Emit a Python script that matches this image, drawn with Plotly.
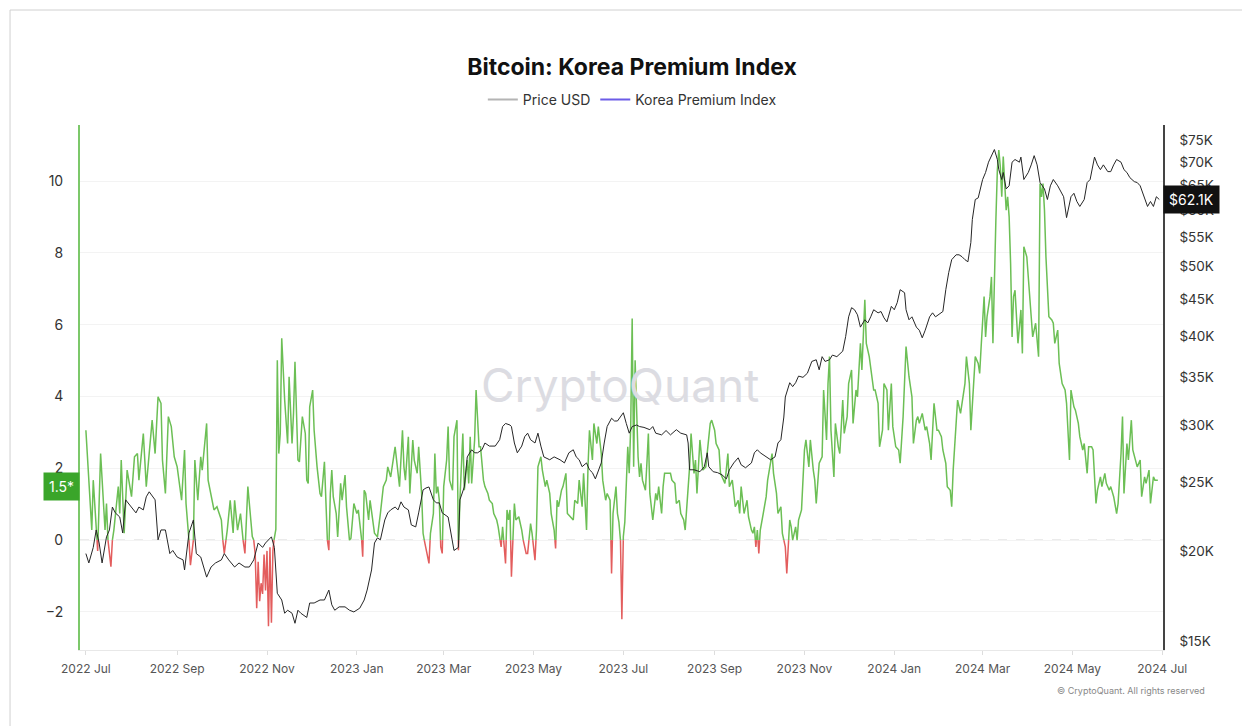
import numpy as np
import pandas as pd
import plotly.graph_objects as go

BASE = pd.Timestamp("2022-07-01")

# Korea Premium Index (%), day offset from 2022-07-01 and value
kpi_day = [0,4,5,7,8,10,13,14,15,17,18,19,22,23,24,26,28,31,33,35,36,39,41,43,45,47,49,51,52,54,56,58,60,62,63,65,67,68,70,71,73,74,76,78,79,82,83,85,87,89,92,93,94,96,98,100,101,103,105,107,108,110,112,113,
           114,115,116,117,118,119,120,121,122,123,124,125,126,127,128,129,
           130,131,132,133,135,137,138,140,141,142,144,145,147,149,150,151,152,154,155,157,159,160,162,163,164,165,166,167,168,170,171,173,174,176,177,179,180,182,184,185,187,188,189,190,192,193,195,196,198,199,200,202,204,205,207,209,210,212,213,215,216,217,219,220,222,223,225,226,228,229,231,233,234,236,237,238,239,
           240,241,242,243,245,246,247,249,250,252,253,254,256,257,259,260,261,262,264,265,267,268,270,271,273,274,276,277,279,280,282,283,285,286,287,288,289,291,292,294,296,297,299,300,302,303,305,306,307,309,310,312,313,315,316,318,319,320,321,323,324,326,327,329,331,332,334,335,337,338,340,341,342,344,345,347,348,350,351,353,354,356,357,358,360,361,
           362,363,364,365,366,
           367,368,369,370,371,372,373,375,376,377,378,380,381,382,383,385,387,388,389,391,392,393,395,397,398,400,401,403,404,406,407,409,410,411,412,413,414,415,417,418,419,421,422,424,425,427,428,430,431,433,434,436,437,439,440,441,443,444,445,447,449,450,452,453,454,455,456,457,458,460,462,463,465,466,467,469,470,472,473,474,475,476,478,479,480,482,483,
           484,486,488,489,491,492,494,495,496,498,500,501,503,504,505,506,508,509,511,512,514,515,517,518,520,521,523,524,526,527,529,530,532,533,535,536,538,539,541,542,544,545,547,548,550,552,553,555,556,557,559,561,562,564,565,566,568,570,571,573,574,576,578,579,581,582,584,585,587,588,589,591,592,594,595,597,598,600,601,603,604,606,
           607,608,610,611,612,614,615,616,617,618,619,620,621,622,623,625,626,627,628,629,630,631,633,634,635,636,637,639,640,642,643,645,647,648,649,650,651,652,654,656,657,658,660,661,663,665,666,668,669,671,672,674,675,677,678,680,681,683,684,686,687,689,690,692,693,695,696,698,700,701,703,704,705,707,708,710,711,713,714,716,717,719,720,722,723,725,726,728]
kpi_val = [3.06,0.28,1.67,0.37,-0.3,2.41,0.28,1.02,0.0,-0.74,0.0,0.28,1.49,0.74,2.23,0.19,1.95,1.21,2.32,2.41,1.67,2.97,1.49,2.32,3.34,2.41,3.99,3.81,2.23,1.30,3.44,3.16,2.32,2.04,1.76,1.11,2.51,1.02,0.0,-0.7,0.0,2.23,1.11,2.32,1.95,3.25,1.67,1.30,0.84,0.93,0.56,0.0,-0.37,0.28,1.11,0.2,1.11,0.28,0.74,-0.1,-0.37,1.49,0.56,0.1,
           0.0,-0.4,-1.9,-0.6,-1.7,-1.2,-1.5,-0.4,-1.4,-0.3,-2.4,-0.2,-2.3,-0.3,0.1,0.3,
           5.01,2.41,2.97,5.62,3.90,2.69,4.55,2.69,3.53,4.97,2.23,2.18,3.44,2.97,1.67,1.58,3.71,4.18,3.06,2.04,1.30,1.21,2.18,1.30,0.0,-0.28,1.30,1.95,1.21,0.74,0.09,1.58,1.11,1.81,0.93,0.0,0.05,1.02,0.74,0.84,0.19,-0.46,1.39,1.30,0.56,1.11,0.56,0.19,0.09,0.37,0.74,1.49,1.67,2.04,1.76,2.32,2.60,1.86,1.49,3.06,2.04,1.67,2.88,1.30,2.79,2.23,1.86,2.60,1.30,0.19,-0.28,-0.65,0.19,0.74,2.41,1.30,1.49,
           1.11,-0.19,-0.37,1.49,2.23,3.16,1.67,1.39,2.88,3.34,-0.28,1.11,2.97,1.39,2.23,1.58,2.88,1.58,2.79,4.18,2.60,2.60,1.67,1.49,1.30,1.11,1.02,0.74,0.56,0.37,-0.19,0.37,-0.65,0.84,0.56,0.84,-1.02,1.02,0.56,0.65,0.28,0.0,-0.37,-0.37,0.46,0.19,-0.56,0.28,2.04,2.32,1.95,1.49,1.67,1.30,0.74,0.28,-0.23,1.11,0.93,1.39,1.49,1.86,0.74,0.65,0.56,1.11,1.02,1.67,0.93,1.86,0.28,2.04,3.06,2.23,3.25,2.69,3.16,2.41,1.67,1.11,1.30,1.11,-0.93,0.74,1.49,0.74,
           0.5,0.1,-2.2,0.1,0.5,
           1.49,2.60,1.86,3.16,6.17,2.04,5.01,2.32,1.76,2.14,1.67,1.39,2.14,2.97,1.30,0.56,1.30,1.11,1.49,0.74,1.49,1.86,1.86,1.86,1.67,1.58,1.02,1.11,0.74,0.56,0.28,1.49,2.04,2.97,2.41,1.86,2.23,1.30,2.79,2.23,1.95,2.04,2.41,3.25,3.34,3.06,2.69,2.51,1.86,1.67,1.58,2.41,1.49,1.67,1.30,0.93,1.11,0.74,1.49,0.74,1.11,0.65,0.28,0.19,0.37,-0.19,0.28,-0.37,0.28,0.74,1.21,1.67,2.14,2.41,1.86,1.30,0.74,0.93,0.19,0.0,-0.19,-0.93,0.56,0.37,0.0,0.37,0.0,
           0.56,0.84,2.51,2.79,2.04,2.79,1.95,1.67,1.02,2.14,2.32,4.18,2.79,4.36,5.11,3.06,1.76,3.25,2.60,2.41,3.90,2.97,3.44,4.36,4.74,3.25,4.18,3.99,5.48,4.74,6.69,5.48,5.11,4.74,4.18,4.18,3.81,2.60,3.06,4.36,4.18,3.06,4.36,3.16,2.60,2.51,2.14,3.44,4.36,5.39,4.55,3.99,2.69,3.34,3.44,3.25,3.53,3.06,3.16,2.69,2.23,3.81,3.06,3.06,2.88,2.51,2.14,1.49,1.39,0.93,1.95,3.25,3.90,3.53,3.81,4.36,5.11,4.36,3.06,4.36,5.11,4.92,
           4.64,5.39,6.78,5.66,6.22,6.78,7.33,5.48,7.71,8.91,10.3,10.86,10.40,9.56,10.68,9.19,9.56,9.01,7.71,5.66,6.78,6.96,5.48,5.85,6.41,5.20,8.17,7.89,7.24,6.22,5.66,6.04,5.11,9.93,9.56,9.93,9.19,7.89,6.22,6.13,6.04,5.48,5.85,4.92,4.36,4.18,3.81,2.23,4.18,3.71,3.62,3.25,2.88,2.51,2.69,1.86,2.60,2.60,2.51,1.02,1.39,1.76,1.49,1.86,1.58,1.39,1.49,1.21,0.74,1.02,2.41,3.44,1.30,2.69,2.23,3.34,2.51,2.14,2.04,2.23,1.21,1.76,1.58,1.95,1.02,1.76,1.67,1.67]

# Bitcoin price (USD), day offset from 2022-07-01 and value
price_day = [0,2,5,7,9,11,14,16,18,20,23,25,27,31,34,36,39,41,43,47,49,51,54,57,59,62,66,67,70,73,75,78,82,85,88,92,94,97,101,104,108,111,114,117,
             120,122,126,128,130,133,135,137,140,142,144,146,150,152,155,159,162,165,167,169,172,176,179,182,186,189,191,194,196,198,200,203,205,207,210,212,214,216,219,221,224,226,229,231,233,236,238,
             240,242,246,248,250,253,254,257,259,262,264,266,269,271,274,278,281,283,285,288,289,291,293,296,298,300,302,305,307,309,311,315,318,322,325,328,331,333,335,337,340,342,344,346,348,350,352,354,357,359,361,
             365,367,369,371,374,376,379,383,385,387,391,394,397,401,404,408,409,410,413,417,420,422,423,426,429,432,435,437,440,443,445,448,452,454,456,458,462,465,468,470,472,474,475,478,480,482,
             484,487,490,493,496,498,500,502,505,507,510,514,516,518,520,522,524,526,529,531,533,535,538,540,542,544,547,549,551,553,556,557,559,561,564,566,568,570,573,575,577,579,582,584,586,588,591,593,595,597,599,601,602,604,606,
             609,611,613,615,617,619,620,622,623,625,627,629,631,634,635,637,640,642,644,646,648,651,653,655,657,660,662,664,666,669,671,673,675,678,680,682,685,687,689,691,694,696,698,700,703,705,707,709,712,714,716,718,721,723,725,727,729]
price_val = [19870,19280,20270,21440,20560,19280,20970,21440,23080,22650,22350,21230,23620,23080,22650,23080,22870,23850,24240,23620,20770,21440,21440,19870,20070,19650,19470,18850,21230,22140,19870,19650,18420,19030,19280,19470,19870,19470,19030,19280,19030,19030,19470,20560,
             20270,20560,20970,20270,17490,17115,16400,16560,16400,15880,16560,16400,16180,16950,16950,17115,17115,17670,16850,16560,16740,16740,16560,16470,16670,17115,17670,18850,20560,20900,20770,22140,22650,22870,23080,22870,23470,23080,22870,21790,21650,22650,24390,24540,24620,23620,23390,
             23390,22650,22350,21230,20070,20270,23620,24620,27120,27750,27480,27480,27750,28360,28080,28080,28660,29900,30200,30050,29900,28360,27480,28080,28940,29270,28660,28360,29270,28080,27120,26870,27120,26870,26600,27480,27750,27120,26870,26280,26600,26020,25780,25270,26020,26600,28360,29900,30710,30440,30440,
             31260,30200,29270,29900,30050,29900,29820,29600,29900,29270,29110,29520,29110,29600,29270,29110,28360,26020,26020,25860,26280,27480,26280,25860,25780,25600,25270,26020,26600,27040,26440,26190,26600,27480,27750,27480,27120,26870,27120,28360,28660,30830,32880,34430,34000,34430,
             35170,35030,35500,36870,37070,35890,37440,36870,37070,37630,37440,38110,39960,42560,43830,43540,42840,41170,42160,41730,42560,43540,43110,43290,42420,41870,44020,43540,44550,46440,45990,43540,42160,42560,41170,40760,39780,40760,42560,43110,42560,42840,43290,46440,49100,51150,51960,51960,51640,51150,50800,54040,58190,62070,62400,
             66200,67710,69990,71480,72900,70600,68330,66200,67710,64230,64870,69990,70600,69990,71150,66200,67710,69390,71480,69390,65550,64230,62070,64870,66200,64870,63640,62630,58560,62630,63330,61680,60700,62070,65550,66200,71150,69390,68330,69390,67900,67900,69390,70600,69990,68330,67710,66600,65750,65550,64870,63330,60700,61680,60700,62630,62070]

left_ticks = [-2, 0, 2, 4, 6, 8, 10]
right_ticks = [15000, 20000, 25000, 30000, 35000, 40000, 45000, 50000, 55000, 60000, 65000, 70000, 75000]
right_labels = ["$15K", "$20K", "$25K", "$30K", "$35K", "$40K", "$45K", "$50K", "$55K", "$60K", "$65K", "$70K", "$75K"]
last_kpi_label = "1.5*"
last_kpi_level = 1.5
last_price = 62100

GREEN = "#6cbf55"
RED = "#e35d5d"


def split_sign(days, vals):
    xs, ys = [], []
    for i in range(len(vals)):
        if i > 0:
            a, b = vals[i - 1], vals[i]
            if a != 0 and b != 0 and (a < 0) != (b < 0):
                t = a / (a - b)
                xs.append(days[i - 1] + t * (days[i] - days[i - 1]))
                ys.append(0.0)
        xs.append(days[i])
        ys.append(vals[i])
    pos = [y if y >= 0 else None for y in ys]
    neg = [y if y <= 0 else None for y in ys]
    dates = BASE + pd.to_timedelta(np.array(xs, dtype=float), unit="D")
    return dates, pos, neg


k_dates, k_pos, k_neg = split_sign(kpi_day, kpi_val)
p_dates = BASE + pd.to_timedelta(np.array(price_day, dtype=float), unit="D")

fig = go.Figure()
fig.add_trace(go.Scatter(x=k_dates, y=k_pos, mode="lines", line=dict(color=GREEN, width=1.5),
                         connectgaps=False, showlegend=False, hoverinfo="skip"))
fig.add_trace(go.Scatter(x=k_dates, y=k_neg, mode="lines", line=dict(color=RED, width=1.5),
                         connectgaps=False, showlegend=False, hoverinfo="skip"))
fig.add_trace(go.Scatter(x=p_dates, y=price_val, mode="lines", line=dict(color="#262626", width=1),
                         yaxis="y2", showlegend=False, hoverinfo="skip"))
# legend entries
fig.add_trace(go.Scatter(x=[None], y=[None], mode="lines", name="Price USD",
                         line=dict(color="#b4b4b4", width=2)))
fig.add_trace(go.Scatter(x=[None], y=[None], mode="lines", name="Korea Premium Index",
                         line=dict(color="#6c5ce7", width=2)))

FONT = "Inter, 'Noto Sans', Arial, sans-serif"

# page body adds an 8px offset; figure is sized so the plot area lands at x 80..1163, y 125..650
W, H = 1242, 718
fig.update_layout(
    width=W, height=H,
    margin=dict(l=72, r=87, t=117, b=76),
    paper_bgcolor="white", plot_bgcolor="white",
    font=dict(family=FONT, color="#333"),
    title=dict(text="<b>Bitcoin: Korea Premium Index</b>", x=(632 - 8) / W, xref="container", xanchor="center",
               y=1 - (67 - 8) / H, yref="container", yanchor="middle",
               font=dict(size=23, color="#111", family=FONT)),
    legend=dict(orientation="h", x=0.51, xanchor="center", y=1.048, yanchor="middle",
                font=dict(size=14, color="#333"), itemwidth=30, bgcolor="rgba(0,0,0,0)"),
    xaxis=dict(type="date", range=["2022-06-27", "2024-07-01 12:00"], dtick="M2", tick0="2022-07-01",
               tickformat="%Y %b", showgrid=False, showline=True, linecolor="#e8e8e8", linewidth=1,
               ticks="outside", ticklen=4, tickcolor="#dddddd", tickfont=dict(size=12, color="#555"),
               ticklabelstandoff=4, zeroline=False),
    yaxis=dict(range=[-3.06, 11.56], tickvals=left_ticks, showgrid=True, gridcolor="#f3f3f3",
               zeroline=False, showline=True, linecolor="#7cc86a", linewidth=2,
               tickfont=dict(size=14, color="#333"), ticks="", ticklabelstandoff=12),
    yaxis2=dict(type="log", overlaying="y", side="right", range=[4.1635, 4.897],
                tickvals=right_ticks, ticktext=right_labels, showgrid=False, zeroline=False,
                showline=True, linecolor="#444", linewidth=1.5,
                tickfont=dict(size=13.5, color="#333"), ticks="", ticklabelstandoff=12),
    showlegend=True,
)

# zero reference line
fig.add_shape(type="line", xref="paper", yref="y", x0=0, x1=1, y0=0, y1=0,
              line=dict(color="#cccccc", width=1, dash="dash"), layer="below")

# frame lines (page border at x=10, y=10)
fig.add_shape(type="line", xref="paper", yref="paper", x0=-0.0646, x1=1.08, y0=1.219, y1=1.219,
              line=dict(color="#d0d0d0", width=1))
fig.add_shape(type="line", xref="paper", yref="paper", x0=-0.0646, x1=-0.0646, y0=-0.145, y1=1.219,
              line=dict(color="#d0d0d0", width=1))

# watermark
fig.add_annotation(text="CryptoQuant", xref="paper", yref="paper", x=0.4986, y=0.505,
                   showarrow=False, font=dict(size=46, color="#dcdce2", family=FONT))
# copyright
fig.add_annotation(text="© CryptoQuant. All rights reserved", xref="paper", yref="paper",
                   x=1.0406, y=-0.078, xanchor="right", yanchor="middle", showarrow=False,
                   font=dict(size=9, color="#888"))
# last value labels
fig.add_annotation(text=last_kpi_label, xref="paper", yref="y", x=0, y=last_kpi_level,
                   xanchor="right", yanchor="middle", showarrow=False, bgcolor="#3aa52a",
                   borderpad=5, font=dict(size=14, color="white"))
fig.add_annotation(text=f"${last_price/1000:.1f}K", xref="paper", yref="y2", x=1, y=np.log10(last_price),
                   xanchor="left", yanchor="middle", showarrow=False, bgcolor="#111111",
                   borderpad=5, font=dict(size=14, color="white"))

fig.write_html("out.html")
